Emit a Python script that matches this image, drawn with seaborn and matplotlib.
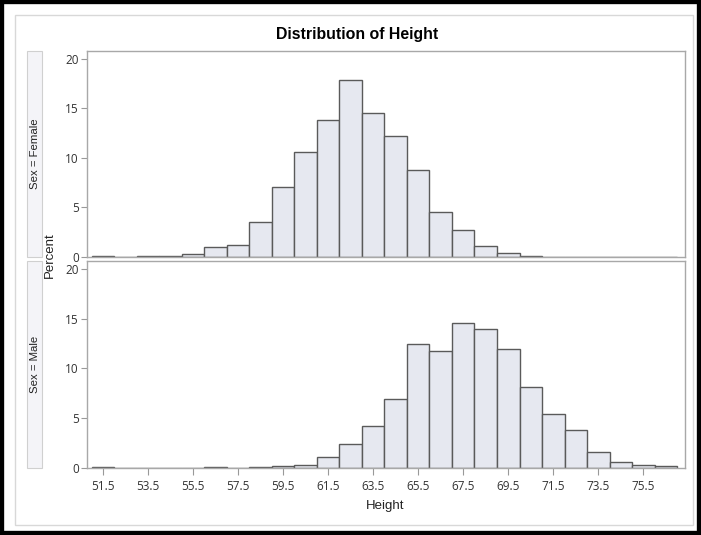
import matplotlib
matplotlib.use("Agg")
import matplotlib.pyplot as plt
from matplotlib.patches import Rectangle
import numpy as np
import pandas as pd
import seaborn as sns

# ---- data (percent per 1-inch bin) ----
bin_mid = [51.5, 52.5, 53.5, 54.5, 55.5, 56.5, 57.5, 58.5, 59.5, 60.5, 61.5, 62.5, 63.5,
           64.5, 65.5, 66.5, 67.5, 68.5, 69.5, 70.5, 71.5, 72.5, 73.5, 74.5, 75.5, 76.5]
female_pct = [0.05, 0.0, 0.05, 0.1, 0.27, 0.95, 1.15, 3.5, 7.0, 10.6, 13.8, 17.9, 14.5,
              12.2, 8.75, 4.5, 2.7, 1.1, 0.4, 0.1, 0.0, 0.0, 0.0, 0.0, 0.0, 0.0]
male_pct = [0.02, 0.0, 0.0, 0.0, 0.0, 0.1, 0.0, 0.05, 0.15, 0.3, 1.1, 2.4, 4.2,
            6.9, 12.4, 11.7, 14.6, 13.95, 11.9, 8.1, 5.4, 3.8, 1.55, 0.55, 0.27, 0.15]
sexes = ["Female", "Male"]
x_ticks = [51.5, 53.5, 55.5, 57.5, 59.5, 61.5, 63.5, 65.5, 67.5, 69.5, 71.5, 73.5, 75.5]
y_ticks = [0, 5, 10, 15, 20]
title = "Distribution of Height"

df = pd.DataFrame({
    "Height": bin_mid * 2,
    "Percent": female_pct + male_pct,
    "Sex": ["Female"] * len(bin_mid) + ["Male"] * len(bin_mid),
})

sns.set_style("white")
plt.rcParams["font.family"] = ["Liberation Sans", "DejaVu Sans"]
tick_font = ["Open Sans", "DejaVu Sans"]

W, H = 701, 535
fig = plt.figure(figsize=(W / 100, H / 100), dpi=100)
fig.patch.set_facecolor("white")

def fx(px):
    return px / W

def fy(py):
    return 1 - py / H

# outer black frame and inner gray border
fig.patches.append(Rectangle((0, 0), 1, 1, transform=fig.transFigure, fill=False,
                             edgecolor="black", linewidth=6, zorder=0))
fig.patches.append(Rectangle((fx(15), fy(525)), fx(693) - fx(15), fy(15) - fy(525),
                             transform=fig.transFigure, fill=False,
                             edgecolor="#d8d8d8", linewidth=1, zorder=0))

panels = [(51, 257), (261, 468)]
bar_fc = "#e6e8f0"
bar_ec = "#5a5a5a"
axes = []
for i, (sex, (top, bot)) in enumerate(zip(sexes, panels)):
    ax = fig.add_axes([fx(87), fy(bot), fx(685) - fx(87), fy(top) - fy(bot)])
    sub = df[df["Sex"] == sex].reset_index(drop=True)
    sns.histplot(data=sub, x="Height", weights="Percent", binwidth=1.0, binrange=(51, 77),
                 ax=ax, color=bar_fc, edgecolor=bar_ec, linewidth=1.0, alpha=1.0)
    ax.set_xlim(50.79, 77.35)
    ax.set_ylim(-0.05, 20.8)
    ax.set_yticks(y_ticks)
    ax.set_yticklabels([str(v) for v in y_ticks], fontsize=8.5, color="#333333",
                       family=tick_font)
    ax.set_xticks(x_ticks)
    ax.tick_params(axis="y", left=True, direction="out", length=4, width=0.8,
                   color="#999999", pad=2)
    if i == 1:
        ax.set_xticklabels([f"{v:.1f}" for v in x_ticks], fontsize=8.5, color="#333333",
                           family=tick_font)
        ax.tick_params(axis="x", bottom=True, direction="out", length=5, width=0.8,
                       color="#999999", pad=3.5)
    else:
        ax.tick_params(axis="x", bottom=False, labelbottom=False)
    ax.set_xlabel("")
    ax.set_ylabel("")
    for s in ax.spines.values():
        s.set_color("#a8a8a8")
        s.set_linewidth(1.0)
    # strip label box
    fig.patches.append(Rectangle((fx(27), fy(bot)), fx(42) - fx(27), fy(top) - fy(bot),
                                 transform=fig.transFigure, facecolor="#f4f4f8",
                                 edgecolor="#d0d0d0", linewidth=0.8, zorder=1))
    fig.text(fx(34.5), (fy(top) + fy(bot)) / 2, f"Sex = {sex}", rotation=90,
             ha="center", va="center", fontsize=8.2, color="#222222", zorder=2)
    axes.append(ax)

fig.text(fx(357), fy(35), title, ha="center", va="center", fontsize=11.4,
         fontweight="bold", color="black")
fig.text(fx(50), fy(255), "Percent", rotation=90, ha="center", va="center",
         fontsize=9.5, color="#222222")
fig.text(fx(385), fy(506), "Height", ha="center", va="center", fontsize=9.5,
         color="#222222")

fig.savefig("out.png", dpi=100)
